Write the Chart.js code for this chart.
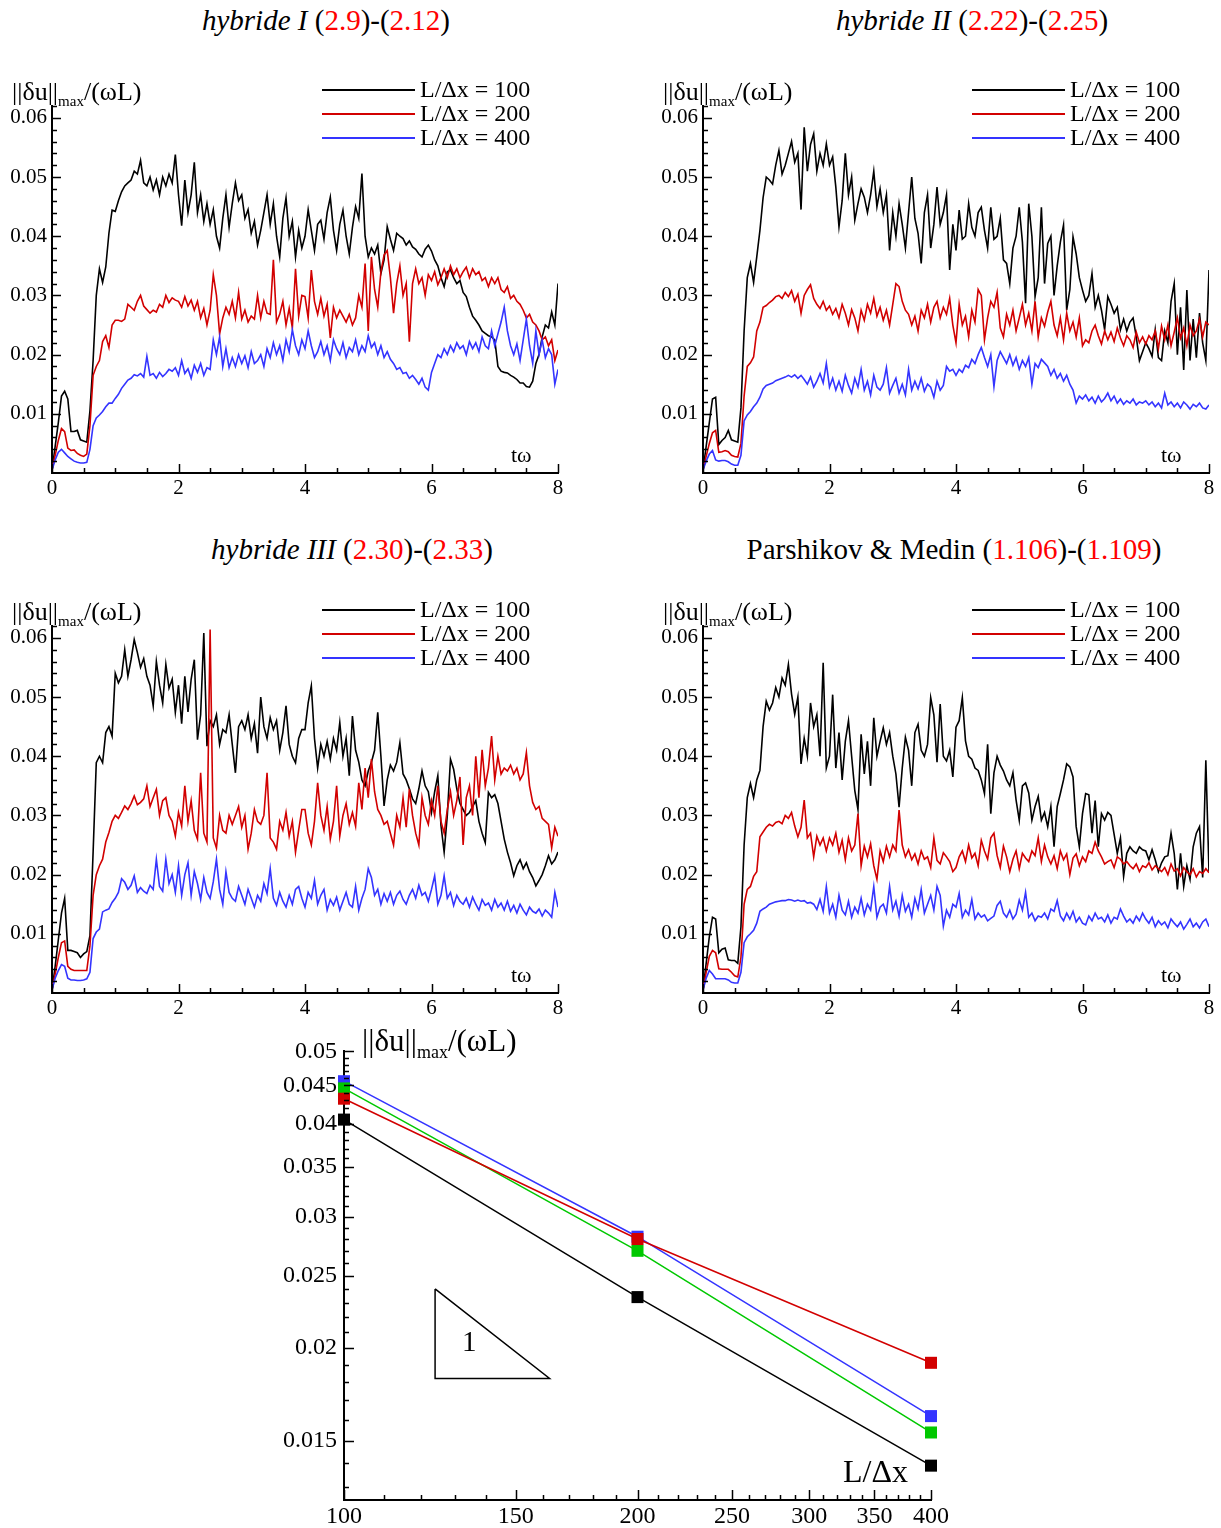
<!DOCTYPE html>
<html>
<head>
<meta charset="utf-8">
<script src="https://cdn.jsdelivr.net/npm/chart.js@4.4.1/dist/chart.umd.min.js"></script>
<style>
body{margin:0;background:#fff;width:1221px;height:1528px;position:relative;overflow:hidden;font-family:"Liberation Serif",serif;color:#000}
canvas{position:absolute}
.lbl{position:absolute;white-space:nowrap;line-height:1}
.ttl{position:absolute;text-align:center;font-size:29px;line-height:1;white-space:nowrap}
.r{color:#ff0000}
sub{font-size:15px}
</style>
</head>
<body>
<canvas id="c1" style="left:0;top:60px" width="600" height="450"></canvas>
<canvas id="c2" style="left:650px;top:60px" width="571" height="450"></canvas>
<canvas id="c3" style="left:0;top:580px" width="600" height="440"></canvas>
<canvas id="c4" style="left:650px;top:580px" width="571" height="440"></canvas>
<canvas id="c5" style="left:260px;top:1030px" width="710" height="498"></canvas>

<div class="ttl" style="left:126px;width:400px;top:6px"><i>hybride I</i> (<span class="r">2.9</span>)-(<span class="r">2.12</span>)</div>
<div class="ttl" style="left:772px;width:400px;top:6px"><i>hybride II</i> (<span class="r">2.22</span>)-(<span class="r">2.25</span>)</div>
<div class="ttl" style="left:152px;width:400px;top:535px"><i>hybride III</i> (<span class="r">2.30</span>)-(<span class="r">2.33</span>)</div>
<div class="ttl" style="left:704px;width:500px;top:535px">Parshikov &amp; Medin (<span class="r">1.106</span>)-(<span class="r">1.109</span>)</div>

<div class="lbl" style="left:12px;top:79px;font-size:26px">||δu||<sub>max</sub>/(ωL)</div>
<div class="lbl" style="left:663px;top:79px;font-size:26px">||δu||<sub>max</sub>/(ωL)</div>
<div class="lbl" style="left:12px;top:599px;font-size:26px">||δu||<sub>max</sub>/(ωL)</div>
<div class="lbl" style="left:663px;top:599px;font-size:26px">||δu||<sub>max</sub>/(ωL)</div>
<div class="lbl" style="left:511px;top:444px;font-size:22px">tω</div>
<div class="lbl" style="left:1161px;top:444px;font-size:22px">tω</div>
<div class="lbl" style="left:511px;top:964px;font-size:22px">tω</div>
<div class="lbl" style="left:1161px;top:964px;font-size:22px">tω</div>
<div class="lbl" style="left:362px;top:1025px;font-size:31px">||δu||<sub style="font-size:18px">max</sub>/(ωL)</div>
<div class="lbl" style="left:843px;top:1455px;font-size:32px">L/Δx</div>
<div class="lbl" style="left:462px;top:1327px;font-size:29px">1</div>

<script>
// time grid (tω) shared by all time series
const tGrid = [0,0.05,0.1,0.15,0.2,0.25,0.3,0.35,0.4,0.45,0.5,0.55,0.6,0.65,0.7,0.75,0.8,0.85,0.9,0.95,
1,1.05,1.1,1.15,1.2,1.25,1.3,1.35,1.4,1.45,1.5,1.55,1.6,1.65,1.7,1.75,1.8,1.85,1.9,1.95,
2,2.05,2.1,2.15,2.2,2.25,2.3,2.35,2.4,2.45,2.5,2.55,2.6,2.65,2.7,2.75,2.8,2.85,2.9,2.95,
3,3.05,3.1,3.15,3.2,3.25,3.3,3.35,3.4,3.45,3.5,3.55,3.6,3.65,3.7,3.75,3.8,3.85,3.9,3.95,
4,4.05,4.1,4.15,4.2,4.25,4.3,4.35,4.4,4.45,4.5,4.55,4.6,4.65,4.7,4.75,4.8,4.85,4.9,4.95,
5,5.05,5.1,5.15,5.2,5.25,5.3,5.35,5.4,5.45,5.5,5.55,5.6,5.65,5.7,5.75,5.8,5.85,5.9,5.95,
6,6.05,6.1,6.15,6.2,6.25,6.3,6.35,6.4,6.45,6.5,6.55,6.6,6.65,6.7,6.75,6.8,6.85,6.9,6.95,
7,7.05,7.1,7.15,7.2,7.25,7.3,7.35,7.4,7.45,7.5,7.55,7.6,7.65,7.7,7.75,7.8,7.85,7.9,7.95,8];

// ||du||max/(wL) values, in units of 1e-4
const unit = 1e-4;

const h1_100 = [5,45,85,130,138,125,70,70,72,56,54,52,105,190,300,345,322,348,405,444,
442,460,475,485,490,495,510,505,528,490,485,500,478,495,470,500,485,505,490,538,
470,418,495,440,470,525,440,470,425,455,420,445,400,380,430,470,415,455,490,460,
470,430,445,405,425,385,410,440,470,420,455,400,365,430,465,400,425,365,410,380,
400,445,410,376,420,427,395,440,466,410,376,420,444,400,370,415,450,430,506,400,
365,380,370,385,337,360,416,395,376,405,400,396,385,392,382,378,370,365,378,385,
375,360,350,330,315,340,343,330,320,325,305,298,280,265,258,250,240,236,232,230,
225,180,172,170,169,165,162,158,152,152,146,145,155,185,200,230,250,245,272,250,320];
const h1_200 = [5,30,55,75,70,42,38,39,33,30,28,32,80,165,180,190,222,232,212,250,
258,258,256,260,285,280,275,290,300,282,276,270,275,272,285,280,300,288,296,292,
290,280,298,282,292,275,290,262,278,250,275,335,300,235,262,280,268,290,262,305,
260,275,255,265,260,300,262,290,270,268,360,255,268,290,250,278,245,345,265,300,
298,262,343,290,268,295,265,285,228,280,262,275,265,255,268,250,262,300,280,354,
240,365,310,280,340,368,376,330,270,320,350,300,320,222,320,345,320,330,300,335,
325,340,318,330,345,330,350,335,345,330,340,348,330,345,335,340,325,330,315,330,
320,330,310,305,315,295,300,290,285,275,262,268,255,250,240,225,230,215,225,190,208];
const h1_400 = [5,22,35,40,34,28,24,20,18,17,17,18,40,80,93,98,104,112,118,118,
126,133,143,150,157,160,166,164,168,162,197,165,168,160,170,163,168,175,172,178,
165,190,168,176,160,182,170,185,165,178,175,225,200,230,180,210,178,195,180,200,
185,198,178,205,185,190,200,180,210,195,220,200,215,190,225,205,242,215,200,225,
210,240,215,195,205,222,200,215,190,225,210,200,220,195,212,205,225,200,215,205,
232,212,220,200,215,195,205,192,185,175,178,168,170,160,165,158,150,160,145,140,
170,185,200,195,210,200,215,205,220,210,215,200,222,210,220,205,230,215,210,240,
215,235,255,280,240,215,200,218,190,225,260,215,185,240,200,225,195,210,200,150,175];

const h2_100 = [5,45,85,125,128,48,55,60,72,56,54,52,110,240,330,354,322,365,410,465,
500,495,488,520,545,505,520,540,560,525,540,445,584,510,555,573,510,540,520,556,
520,534,483,416,460,540,470,500,427,455,480,466,440,470,510,450,480,440,470,376,
440,400,455,420,380,440,500,430,405,354,440,470,380,420,483,420,440,470,343,420,
376,444,395,400,455,415,400,440,449,410,380,449,395,400,430,360,354,320,380,400,
449,390,287,455,400,298,330,449,320,388,400,300,350,390,419,275,310,399,370,330,
309,290,300,337,280,300,275,242,298,285,270,280,242,260,240,255,262,230,190,205,
220,210,197,242,195,190,240,220,290,320,200,280,174,309,190,260,195,270,220,190,343];
const h2_200 = [5,28,50,68,72,35,36,38,36,30,28,27,50,130,180,186,196,240,255,280,
283,288,292,298,300,295,305,298,308,290,302,270,300,310,318,295,285,278,290,275,
282,268,278,262,285,270,250,276,262,240,275,258,285,270,295,265,280,258,275,250,
285,320,315,290,275,268,250,265,240,275,262,285,255,280,290,262,280,268,295,250,
220,285,250,265,230,275,255,310,300,225,262,290,280,305,245,230,268,250,275,240,
262,285,250,270,240,290,230,262,248,272,290,250,232,262,225,270,240,255,230,262,
215,225,220,240,250,232,218,240,225,238,222,245,228,215,232,225,212,238,220,230,
218,232,225,240,210,248,225,250,215,238,262,228,245,215,250,232,240,260,230,255,250];
const h2_400 = [5,20,32,38,22,20,21,21,19,15,13,13,30,88,98,104,112,118,128,142,
148,150,152,156,158,160,162,165,162,166,160,165,158,150,162,145,155,168,152,185,
145,160,140,155,138,165,148,135,160,145,175,140,155,132,165,145,140,150,178,135,
148,160,135,150,132,175,140,155,142,160,138,150,145,128,155,140,148,180,172,175,
165,175,170,182,178,192,185,200,212,195,180,200,146,190,205,195,185,200,182,195,
175,190,180,195,150,185,178,192,186,180,165,175,160,168,155,165,150,140,118,130,
125,132,122,128,118,130,120,126,135,122,130,118,125,116,122,118,125,115,120,118,
122,115,120,112,118,110,135,115,120,112,118,110,120,115,108,116,112,118,110,108,115];

const h3_100 = [5,45,90,135,160,72,72,70,68,60,66,70,97,238,389,400,389,440,450,434,
540,524,535,580,535,563,597,575,550,565,535,520,485,560,520,490,555,515,530,474,
520,455,535,475,530,563,428,470,608,417,460,450,470,420,445,440,470,420,372,450,
460,445,470,430,455,405,500,450,430,465,445,460,410,440,485,420,400,389,430,445,
445,490,519,430,380,420,400,425,395,430,410,457,400,430,367,468,410,390,360,350,
375,390,410,474,400,316,360,385,375,390,423,370,360,345,328,320,345,375,350,340,
305,340,367,283,238,300,395,378,345,320,310,300,305,315,325,290,270,254,339,330,
335,320,290,260,238,220,198,215,225,210,220,205,195,181,190,200,215,232,218,225,238];
const h3_200 = [5,32,60,85,88,45,40,38,38,38,38,38,80,165,200,215,226,255,271,290,
300,295,305,316,310,320,333,318,322,328,350,315,330,344,300,325,330,300,290,265,
305,282,350,290,325,275,260,372,270,255,614,262,245,300,275,270,300,285,300,315,
280,300,243,270,310,290,285,300,372,262,255,243,290,275,305,265,290,238,275,310,
310,270,250,290,355,300,275,315,260,290,350,265,300,320,285,305,282,355,310,380,
330,395,340,310,300,285,290,270,250,300,280,330,280,345,300,270,250,330,300,285,
325,300,350,290,270,310,340,300,325,365,250,330,350,300,400,330,411,350,380,434,
360,400,370,380,375,385,370,380,360,370,406,350,322,310,315,295,290,285,245,280,265];
const h3_400 = [5,25,38,48,45,25,22,22,21,21,22,24,35,92,103,108,137,140,142,153,
160,170,193,187,175,182,198,170,178,172,168,182,175,226,180,172,226,185,200,170,
215,165,200,220,165,205,185,158,195,170,160,188,226,175,150,205,170,160,155,180,
165,150,175,160,145,165,155,185,168,210,160,148,170,155,145,165,150,175,180,160,
145,170,160,190,150,165,175,140,158,148,162,140,155,170,150,145,180,140,160,175,
210,195,165,175,150,168,155,170,150,165,172,158,150,165,175,160,182,165,170,155,
175,198,150,165,198,160,170,148,165,155,150,160,145,162,150,140,158,148,152,140,
158,145,152,140,155,138,148,135,150,140,132,145,138,135,142,130,140,135,128,170,145];

const pm_100 = [5,50,95,128,125,68,74,76,56,55,55,50,112,250,330,354,330,360,376,450,
493,478,490,516,500,532,520,555,505,471,500,387,430,400,490,450,470,400,558,380,
400,504,380,440,360,425,460,400,342,310,437,370,425,350,465,400,425,448,420,440,
400,370,314,380,432,410,350,440,454,410,400,420,499,470,390,488,400,392,410,365,
449,460,499,426,400,395,380,376,360,337,420,303,372,400,385,375,360,350,372,326,
292,350,355,338,292,315,332,292,305,281,315,247,315,337,360,387,382,365,281,247,
303,337,335,270,325,247,303,292,305,300,268,236,262,197,236,247,240,236,247,242,
240,225,242,225,205,220,230,232,270,236,175,236,180,215,192,247,270,281,195,393,205];
const pm_200 = [5,35,62,72,68,41,40,40,40,35,29,27,60,150,175,180,197,205,264,272,
280,285,282,288,290,286,300,295,305,282,264,280,326,262,270,230,265,250,262,240,
262,250,270,238,258,225,262,240,250,303,215,248,230,252,215,192,240,222,248,230,
250,240,309,250,230,242,225,235,218,240,226,230,212,262,224,218,237,230,222,205,
212,230,240,222,250,228,236,215,258,240,226,262,270,232,212,248,230,205,226,240,
210,236,228,222,240,232,262,222,250,230,218,232,210,240,225,235,200,228,235,215,
230,222,240,236,255,240,230,218,222,225,212,230,226,218,222,215,210,218,205,215,
212,220,208,215,210,205,212,200,218,206,210,198,212,205,200,210,196,205,202,210,203];
const pm_400 = [5,25,38,32,24,24,24,24,22,18,17,17,35,85,95,100,106,118,138,142,
145,150,152,154,155,156,156,158,157,155,157,155,156,152,153,150,141,158,138,180,
135,150,128,165,140,132,155,128,145,135,160,132,150,140,180,128,145,150,135,180,
140,155,130,165,138,150,128,160,142,175,135,150,165,140,180,165,113,140,128,150,
145,168,128,140,132,158,125,135,128,132,122,126,130,148,155,135,128,140,125,133,
157,140,170,128,135,122,130,128,135,125,142,138,156,130,122,135,125,138,120,128,
118,115,130,122,135,125,128,120,132,118,128,125,142,130,120,125,118,130,122,135,
125,118,128,112,122,115,120,110,125,118,112,120,108,116,125,112,118,110,120,125,112];

const resolutions = ['100', '200', '400'];
const tTicks = [0, 2, 4, 6, 8];
const yTicks = [0.01, 0.02, 0.03, 0.04, 0.05, 0.06];

// convergence plot
const convX = [100, 200, 400];
const convBlack = [0.0405, 0.0234, 0.0139];
const convRed = [0.0432, 0.0280, 0.0191];
const convGreen = [0.0446, 0.0270, 0.0154];
const convBlue = [0.0456, 0.0282, 0.0162];
const convXTicks = [100, 150, 200, 250, 300, 350, 400];
const convYTicks = [0.015, 0.02, 0.025, 0.03, 0.035, 0.04, 0.045, 0.05];
const triX = [124, 124, 162.5, 124];
const triY = [0.0240, 0.0182, 0.0182, 0.0240];

const BLACK = '#000000', RED = '#d20000', BLUE = '#3434ff', GREEN = '#00c800';
const FONT = '"Liberation Serif", "DejaVu Serif", serif';

// inward tick marks, Tecplot style
const innerTicks = {
  id: 'innerTicks',
  afterDraw(chart, args, o) {
    const {ctx, chartArea: a, scales: {x, y}} = chart;
    ctx.save();
    ctx.strokeStyle = '#000';
    ctx.lineWidth = 1.5;
    ctx.beginPath();
    const xt = (vals, len) => vals.forEach(v => {
      const px = Math.round(x.getPixelForValue(v)) + 0.5;
      ctx.moveTo(px, a.bottom); ctx.lineTo(px, a.bottom - len);
    });
    const yt = (vals, len) => vals.forEach(v => {
      const py = Math.round(y.getPixelForValue(v)) + 0.5;
      ctx.moveTo(a.left, py); ctx.lineTo(a.left + len, py);
    });
    xt(o.xMajor, o.major); xt(o.xMinor, o.minor);
    yt(o.yMajor, o.major); yt(o.yMinor, o.minor);
    ctx.stroke();
    ctx.restore();
  }
};

// legend drawn as line samples inside the frame
const lineLegend = {
  id: 'lineLegend',
  afterDraw(chart, args, o) {
    if (!o.show) return;
    const ctx = chart.ctx;
    ctx.save();
    ctx.font = '24px ' + FONT;
    ctx.textBaseline = 'middle';
    chart.data.datasets.forEach((ds, i) => {
      const yy = o.y0 + i * o.dy;
      ctx.strokeStyle = ds.borderColor;
      ctx.lineWidth = 2;
      ctx.beginPath(); ctx.moveTo(o.x0, yy); ctx.lineTo(o.x1, yy); ctx.stroke();
      ctx.fillStyle = '#000';
      ctx.fillText(ds.label, o.x1 + 5, yy + 1);
    });
    ctx.restore();
  }
};
Chart.register(innerTicks, lineLegend);

function steps(from, to, step, skip) {
  const out = [];
  for (let v = from; v <= to + 1e-9; v += step) {
    const r = Math.round(v * 1e6) / 1e6;
    if (!skip.some(s => Math.abs(s - r) < 1e-9)) out.push(r);
  }
  return out;
}

function series(label, vals, color, order) {
  return {
    label: label,
    data: tGrid.map((t, i) => ({x: t, y: vals[i] * unit})),
    borderColor: color,
    backgroundColor: color,
    borderWidth: 1.6,
    pointRadius: 0,
    tension: 0,
    order: order
  };
}

function axis(opts) {
  return Object.assign({
    grid: {display: false, drawTicks: false},
    border: {display: true, color: '#000', width: 2},
  }, opts);
}

function panel(id, yAxisW, xAxisH, padRight, s100, s200, s400) {
  new Chart(document.getElementById(id), {
    type: 'line',
    data: {
      datasets: [
        series('L/Δx = ' + resolutions[0], s100, BLACK, 3),
        series('L/Δx = ' + resolutions[1], s200, RED, 2),
        series('L/Δx = ' + resolutions[2], s400, BLUE, 1)
      ]
    },
    options: {
      responsive: false,
      animation: false,
      layout: {padding: {top: 46, right: padRight, bottom: 0, left: 0}},
      plugins: {
        legend: {display: false},
        tooltip: {enabled: false},
        lineLegend: {show: true, x0: 322, x1: 415, y0: 30, dy: 24},
        innerTicks: {
          xMajor: tTicks, xMinor: steps(0, 8, 0.5, tTicks),
          yMajor: yTicks, yMinor: steps(0.002, 0.062, 0.002, yTicks),
          major: 9, minor: 5
        }
      },
      scales: {
        x: axis({
          type: 'linear', min: 0, max: 8,
          ticks: {color: '#000', font: {family: FONT, size: 21}, padding: 3, callback: v => String(v)},
          afterBuildTicks: s => { s.ticks = tTicks.map(v => ({value: v})); },
          afterFit: s => { s.height = xAxisH; }
        }),
        y: axis({
          type: 'linear', min: 0, max: 0.062,
          ticks: {color: '#000', font: {family: FONT, size: 21}, padding: 5, callback: v => v.toFixed(2)},
          afterBuildTicks: s => { s.ticks = yTicks.map(v => ({value: v})); },
          afterFit: s => { s.width = yAxisW; }
        })
      }
    }
  });
}

panel('c1', 52, 37, 42, h1_100, h1_200, h1_400);
panel('c2', 53, 37, 12, h2_100, h2_200, h2_400);
panel('c3', 52, 27, 42, h3_100, h3_200, h3_400);
panel('c4', 53, 27, 12, pm_100, pm_200, pm_400);

function conv(label, vals, color) {
  return {
    label: label,
    data: convX.map((x, i) => ({x: x, y: vals[i]})),
    borderColor: color,
    backgroundColor: color,
    borderWidth: 1.5,
    pointStyle: 'rect',
    pointRadius: 8.5,
    pointBorderWidth: 0,
    tension: 0,
    clip: false
  };
}

new Chart(document.getElementById('c5'), {
  type: 'line',
  data: {
    datasets: [
      conv('hybride I', convBlack, BLACK),
      conv('hybride II', convRed, RED),
      conv('hybride III', convGreen, GREEN),
      conv('Parshikov & Medin', convBlue, BLUE),
      {
        label: 'slope 1',
        data: triX.map((x, i) => ({x: x, y: triY[i]})),
        borderColor: BLACK, borderWidth: 1.5, pointRadius: 0, tension: 0
      }
    ]
  },
  options: {
    responsive: false,
    animation: false,
    layout: {padding: {top: 16, right: 39, bottom: 0, left: 0}},
    plugins: {
      legend: {display: false},
      tooltip: {enabled: false},
      lineLegend: {show: false},
      innerTicks: {
        xMajor: convXTicks, xMinor: steps(110, 390, 10, convXTicks),
        yMajor: convYTicks, yMinor: steps(0.013, 0.049, 0.001, convYTicks),
        major: 10, minor: 5
      }
    },
    scales: {
      x: axis({
        type: 'logarithmic', min: 100, max: 400,
        ticks: {color: '#000', font: {family: FONT, size: 24}, padding: 2, callback: v => String(v)},
        afterBuildTicks: s => { s.ticks = convXTicks.map(v => ({value: v})); },
        afterFit: s => { s.height = 28; }
      }),
      y: axis({
        type: 'logarithmic', min: 0.0125, max: 0.05,
        ticks: {color: '#000', font: {family: FONT, size: 24}, padding: 7, callback: v => String(v)},
        afterBuildTicks: s => { s.ticks = convYTicks.map(v => ({value: v})); },
        afterFit: s => { s.width = 84; }
      })
    }
  }
});
</script>
</body>
</html>
